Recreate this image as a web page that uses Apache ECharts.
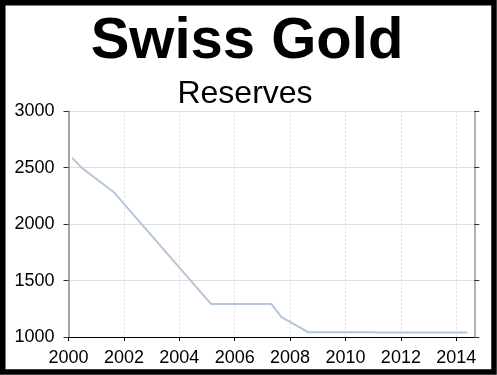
<!DOCTYPE html>
<html>
<head>
<meta charset="utf-8">
<script src="https://cdn.jsdelivr.net/npm/echarts@6/dist/echarts.min.js"></script>
<style>
html,body{margin:0;padding:0;background:#fff;}
#c{width:497px;height:375px;}
</style>
</head>
<body>
<div id="c"></div>
<script>
var titleText = 'Swiss Gold';
var subtitleText = 'Reserves';
var years = [2000.13, 2000.45, 2000.7, 2001.65, 2005.15, 2007.33, 2007.69, 2008.65, 2011.0, 2011.1, 2014.4];
var reserves = [2590, 2505, 2458, 2280, 1292, 1292, 1177, 1043, 1043, 1040, 1040];
var xTicks = [2000, 2002, 2004, 2006, 2008, 2010, 2012, 2014];
var yTicks = [1000, 1500, 2000, 2500, 3000];

var font = '"Liberation Sans", Arial, sans-serif';
var chart = echarts.init(document.getElementById('c'), null, {renderer: 'canvas'});
var seriesData = years.map(function (y, i) { return [y, reserves[i]]; });
function plain(v) { return String(v); }

chart.setOption({
  animation: false,
  backgroundColor: '#fff',
  grid: {left: 68.5, right: 22.7, top: 111.3, bottom: 38, containLabel: false},
  graphic: [
    {type: 'rect', shape: {x: 2.75, y: 2.75, width: 491.25, height: 369.25},
     style: {fill: 'none', stroke: '#000', lineWidth: 5.5}, z: 100},
    {type: 'text', x: 247, y: 42,
     style: {text: titleText, font: 'bold 58px ' + font, fill: '#000', align: 'center', verticalAlign: 'middle'}},
    {type: 'text', x: 245, y: 94,
     style: {text: subtitleText, font: '32px ' + font, fill: '#000', align: 'center', verticalAlign: 'middle'}}
  ],
  xAxis: {
    type: 'value', min: xTicks[0], max: 2014.65, interval: 2,
    axisLine: {show: true, lineStyle: {color: '#000', width: 1}},
    axisTick: {show: true, length: 4, inside: false, lineStyle: {color: '#000'}, customValues: xTicks},
    axisLabel: {show: true, fontSize: 18, fontFamily: font, color: '#000', margin: 12, customValues: xTicks, formatter: plain},
    splitLine: {show: true, lineStyle: {color: '#dcdcdc', type: [2, 2], width: 1}}
  },
  yAxis: [
    {
      type: 'value', min: yTicks[0], max: yTicks[yTicks.length - 1], interval: 500,
      axisLine: {show: true, lineStyle: {color: '#888', width: 1.5}},
      axisTick: {show: true, length: 5, lineStyle: {color: '#333'}},
      axisLabel: {show: true, fontSize: 18, fontFamily: font, color: '#000', margin: 14, formatter: plain},
      splitLine: {show: true, lineStyle: {color: '#e0e0e0', width: 1}}
    },
    {
      type: 'value', position: 'right', min: yTicks[0], max: yTicks[yTicks.length - 1], interval: 500,
      axisLine: {show: true, lineStyle: {color: '#999', width: 1.5}},
      axisTick: {show: true, length: 5, lineStyle: {color: '#333'}},
      axisLabel: {show: false},
      splitLine: {show: false}
    }
  ],
  series: [{
    type: 'line', data: seriesData, showSymbol: false, symbol: 'none',
    lineStyle: {color: '#b6c5d8', width: 2}, smooth: false
  }]
});
</script>
</body>
</html>
